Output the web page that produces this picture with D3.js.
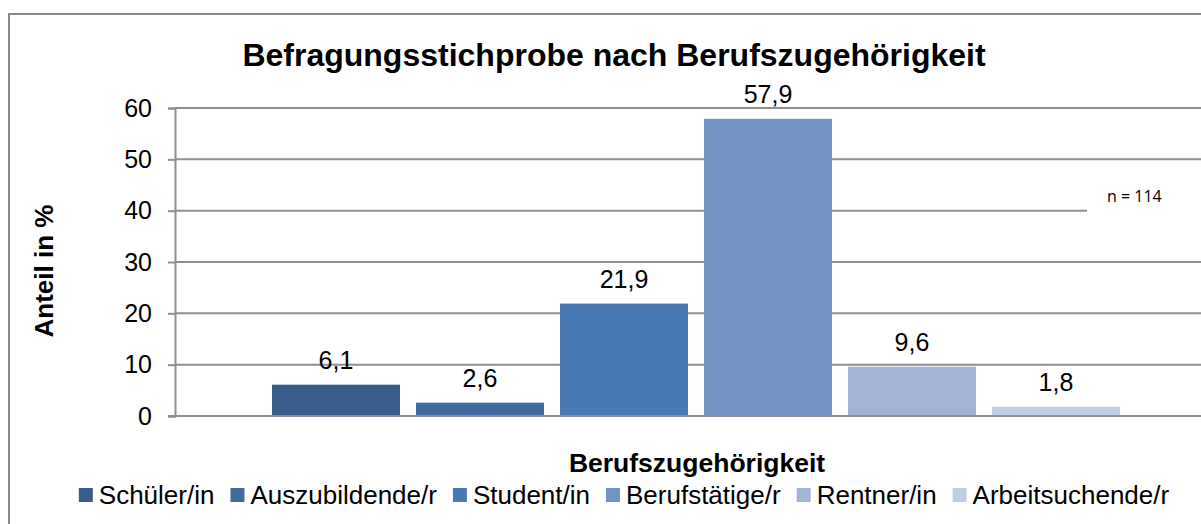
<!DOCTYPE html>
<html>
<head>
<meta charset="utf-8">
<script src="https://cdn.jsdelivr.net/npm/d3@7"></script>
<style>
  html, body { margin: 0; padding: 0; background: #ffffff; }
  svg { display: block; }
  text { font-family: "Liberation Sans", Arial, sans-serif; fill: #000; }
</style>
</head>
<body>
<svg id="chart" width="1201" height="524"></svg>
<script>
// ---- data ----
const categories = ["Schüler/in", "Auszubildende/r", "Student/in", "Berufstätige/r", "Rentner/in", "Arbeitsuchende/r"];
const values = [6.1, 2.6, 21.9, 57.9, 9.6, 1.8];
const colors = ["#385d8a", "#416b9f", "#4a7ab5", "#7194c5", "#a1b4d6", "#c2cee5"];
const yTicks = [0, 10, 20, 30, 40, 50, 60];
const titleText = "Befragungsstichprobe nach Berufszugehörigkeit";
const xTitle = "Berufszugehörigkeit";
const yTitle = "Anteil in %";
const noteText = "n = 114";

// ---- layout ----
const plot = { left: 175, right: 1217, top: 108, bottom: 416 };
const gridColor = "#8f8f8f";

const svg = d3.select("#chart");
const de = d3.formatLocale({ decimal: ",", thousands: ".", grouping: [3], currency: ["", " €"] });
const fmt = de.format(".1f");

// chart border
svg.append("rect")
  .attr("x", 9).attr("y", 14).attr("width", 1400).attr("height", 800)
  .attr("fill", "#fff").attr("stroke", "#8a8a8a").attr("stroke-width", 2);

const y = d3.scaleLinear().domain([0, 60]).range([plot.bottom, plot.top]);

// group (single category) and series bands
const xGroup = d3.scaleBand().domain([xTitle]).range([plot.left, plot.right]).paddingOuter(0.0);
const groupStart = xGroup(xTitle) + 89;
const groupEnd = groupStart + 864;
const x = d3.scaleBand().domain(categories).range([groupStart, groupEnd]).paddingInner(1 / 9).paddingOuter(1 / 18);

// gridlines
svg.append("g").selectAll("line").data(yTicks.filter(d => d > 0)).join("line")
  .attr("x1", plot.left).attr("x2", plot.right)
  .attr("y1", d => y(d)).attr("y2", d => y(d))
  .attr("stroke", gridColor).attr("stroke-width", 2);

// y axis
const yAxis = d3.axisLeft(y).tickValues(yTicks).tickSize(7).tickPadding(16).tickFormat(d3.format("d"));
const ya = svg.append("g").attr("transform", `translate(${plot.left},0)`).call(yAxis);
ya.select(".domain").attr("stroke", gridColor).attr("stroke-width", 2);
ya.selectAll(".tick line").attr("stroke", gridColor).attr("stroke-width", 2);
ya.selectAll(".tick text").attr("font-size", 25).attr("font-family", "Liberation Sans, Arial, sans-serif").attr("fill", "#000");

// bars
svg.append("g").selectAll("rect").data(categories).join("rect")
  .attr("x", d => x(d))
  .attr("width", x.bandwidth())
  .attr("y", (d, i) => y(values[i]))
  .attr("height", (d, i) => y(0) - y(values[i]))
  .attr("fill", (d, i) => colors[i]);

// zero line
svg.append("line")
  .attr("x1", plot.left - 7).attr("x2", plot.right)
  .attr("y1", y(0)).attr("y2", y(0))
  .attr("stroke", gridColor).attr("stroke-width", 2);

// data labels
svg.append("g").selectAll("text").data(categories).join("text")
  .attr("x", d => x(d) + x.bandwidth() / 2)
  .attr("y", (d, i) => y(values[i]) - 16)
  .attr("text-anchor", "middle")
  .attr("font-size", 25)
  .text((d, i) => fmt(values[i]));

// note box
svg.append("rect").attr("x", 1087).attr("y", 183).attr("width", 200).attr("height", 32).attr("fill", "#fff");
svg.append("text").attr("x", 1107).attr("y", 202).attr("font-size", 16)
  .style("font-family", "'Open Sans', 'Liberation Sans', sans-serif").text(noteText);

// title
svg.append("text").attr("x", 614).attr("y", 66).attr("text-anchor", "middle")
  .attr("font-size", 32).attr("font-weight", "bold").text(titleText);

// axis titles
svg.append("text").attr("transform", "translate(53,271) rotate(-90)").attr("text-anchor", "middle")
  .attr("font-size", 26).attr("font-weight", "bold").text(yTitle);
svg.append("text").attr("x", 697).attr("y", 472).attr("text-anchor", "middle")
  .attr("font-size", 26.5).attr("font-weight", "bold").text(xTitle);

// legend
const lg = svg.append("g");
const items = lg.selectAll("g").data(categories).join("g");
items.append("rect").attr("width", 14).attr("height", 14).attr("y", 488).attr("fill", (d, i) => colors[i]);
items.append("text").attr("y", 504).attr("font-size", 26).text(d => d);
let widths = [];
items.select("text").each(function () { widths.push(this.getComputedTextLength()); });
const total = d3.sum(widths) + categories.length * 20 + (categories.length - 1) * 16;
let cx = 624 - total / 2;
items.each(function (d, i) {
  const g = d3.select(this);
  g.select("rect").attr("x", cx);
  g.select("text").attr("x", cx + 20);
  cx += 20 + widths[i] + 16;
});
</script>
</body>
</html>
